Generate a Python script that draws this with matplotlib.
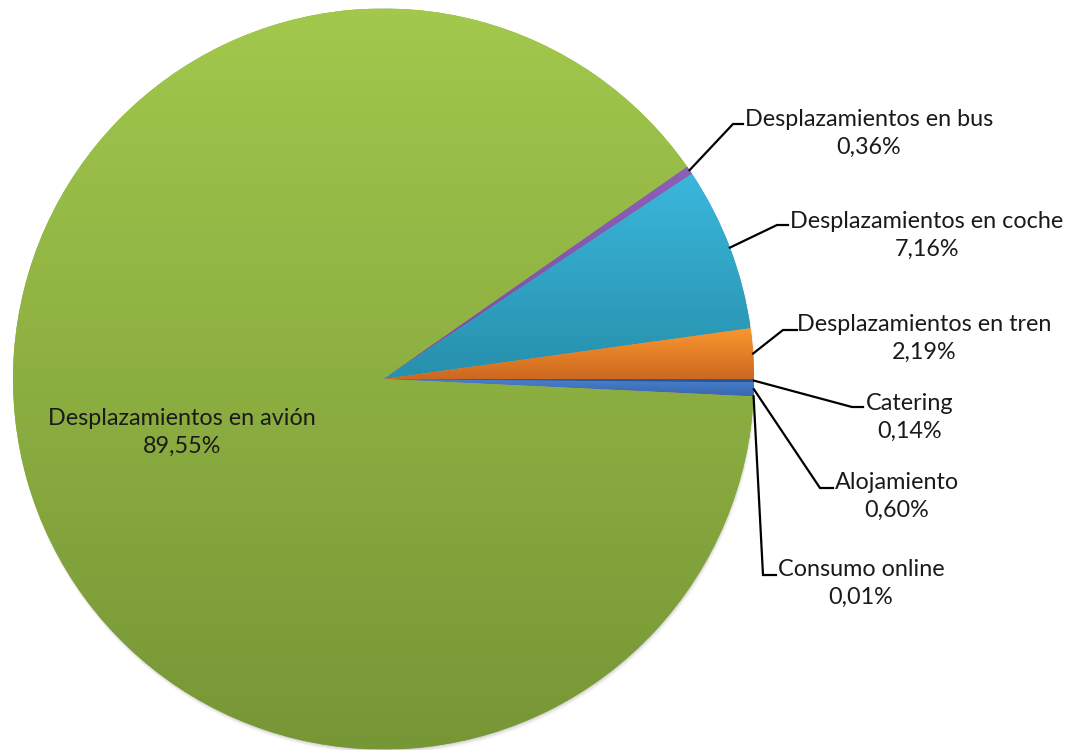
import numpy as np
import matplotlib
matplotlib.use("Agg")
import matplotlib.pyplot as plt
from matplotlib.colors import to_rgb

# data, in the order the slices are drawn (clockwise)
categories = ['Alojamiento', 'Consumo online', 'Desplazamientos en avión',
              'Desplazamientos en bus', 'Desplazamientos en coche',
              'Desplazamientos en tren', 'Catering']
shares = [0.60, 0.01, 89.55, 0.36, 7.16, 2.19, 0.14]
pct_labels = ['0,60%', '0,01%', '89,55%', '0,36%', '7,16%', '2,19%', '0,14%']

# gradient (top, bottom) per slice
grad_colors = [('#4a80cc', '#3668b0'), ('#c8504d', '#a8403d'),
               ('#a2c84c', '#779636'), ('#8e5fb8', '#7a4ea2'),
               ('#3ab7dc', '#2790ac'), ('#fa972f', '#cc6820'),
               ('#3560a8', '#2a4e8c')]

# label block centers and leader elbows (pixels)
label_pos = [(897, 496), (861, 583), (182, 432), (869, 133),
             (927, 235), (924, 338), (910, 417)]
elbows = [((820, 488), (833, 488)), ((763, 575), (776, 575)), None,
          ((733, 124), (743, 124)), ((777, 225), (788, 225)),
          ((783, 330), (797, 330)), ((852, 407), (863, 407))]

W, H = 1071, 754
cx, cy, R = 383.5, 379, 370.5


def px(x, y):
    return (x - cx) / R, (cy - y) / R


fig = plt.figure(figsize=(W / 100, H / 100), dpi=100)
fig.patch.set_facecolor('white')
ax = fig.add_axes([(cx - R) / W, (H - cy - R) / H, 2 * R / W, 2 * R / H])

# soft drop shadow, bottom right of the pie
for k, a in enumerate([0.04, 0.05, 0.07, 0.09]):
    sh = plt.Circle((0.003 - 0.0006 * k, -0.010 + 0.002 * k),
                    1.0 + 0.002 - 0.001 * k,
                    color='#505050', alpha=a, lw=0, zorder=0)
    ax.add_patch(sh)

start = -360 * shares[-1] / sum(shares)
wedges, _ = ax.pie(shares, startangle=start, counterclock=False,
                   colors=[c[0] for c in grad_colors],
                   wedgeprops=dict(linewidth=0))

for w, (top, bot) in zip(wedges, grad_colors):
    ext = w.get_path().get_extents()
    t = np.linspace(0, 1, 256)[:, None]
    img = (1 - t) * np.array(to_rgb(bot)) + t * np.array(to_rgb(top))
    img = img[:, None, :]
    w.set_facecolor(tuple((np.array(to_rgb(top)) + np.array(to_rgb(bot))) / 2))
    im = ax.imshow(img, extent=(ext.x0, ext.x1, ext.y0, ext.y1),
                   origin='lower', aspect='auto', zorder=1.5,
                   interpolation='bilinear')
    im.set_clip_path(w)

ax.set_xlim(-1, 1)
ax.set_ylim(-1, 1)
ax.set_aspect('equal')
ax.axis('off')

font = dict(family=['Lato', 'DejaVu Sans'], fontsize=16.8, color='#1a1a1a')

for w, name, pct, pos, elb in zip(wedges, categories, pct_labels,
                                  label_pos, elbows):
    tx, ty = px(*pos)
    ax.text(tx, ty, name + '\n' + pct, ha='center', va='center',
            linespacing=1.4, zorder=5, **font)
    if elb is None:
        continue
    mid = np.deg2rad((w.theta1 + w.theta2) / 2)
    sx, sy = np.cos(mid), np.sin(mid)
    (ex, ey), (hx, hy) = px(*elb[0]), px(*elb[1])
    ax.plot([sx, ex, hx], [sy, ey, hy], color='black', lw=1.6,
            zorder=4, solid_joinstyle='miter', clip_on=False)

fig.savefig('out.png', dpi=100, facecolor='white')
